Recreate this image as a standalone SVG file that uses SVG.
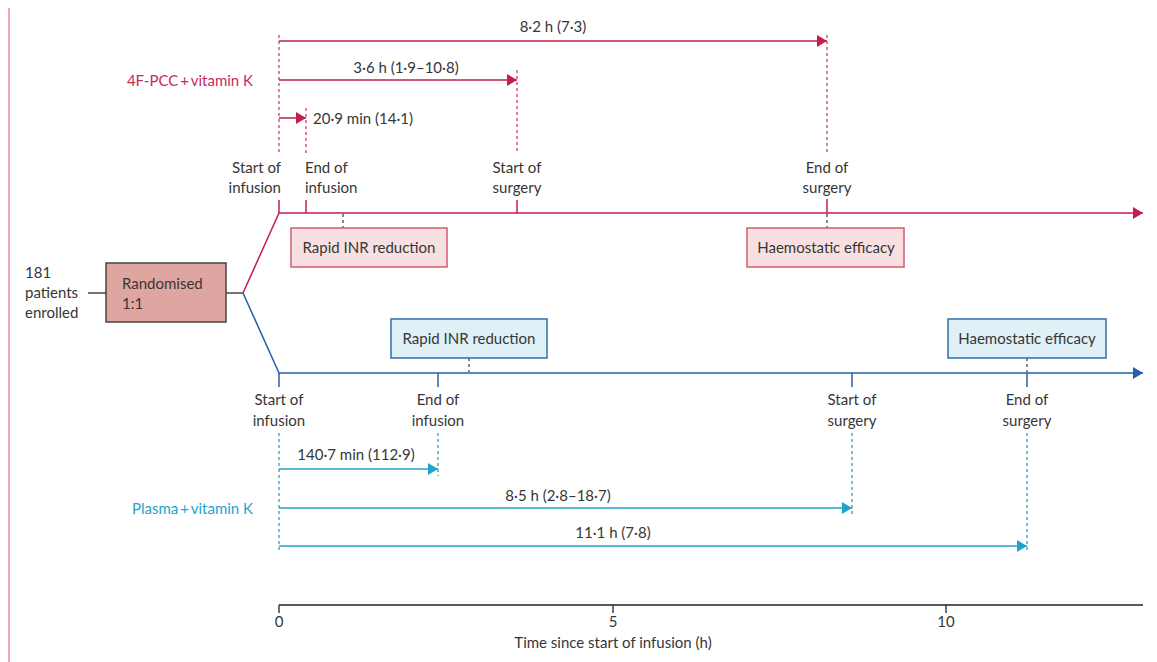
<svg xmlns="http://www.w3.org/2000/svg" width="1157" height="662" viewBox="0 0 1157 662">
<style>
text{font-family:Lato,"Open Sans","Liberation Sans",sans-serif;font-size:15px;fill:#363636}
.red{fill:#c8285a}
.lb{fill:#1fa3cc}
.m{text-anchor:middle}
.e{text-anchor:end}
.tr{stroke:#c41e4a;stroke-width:1.5;fill:none}
.tb{stroke:#2560a8;stroke-width:1.5;fill:none}
.dr{stroke:#d0406a;stroke-width:1.3;stroke-dasharray:3 3;fill:none}
.dl{stroke:#1fa3cc;stroke-width:1.3;stroke-dasharray:3 3;fill:none}
.dk{stroke:#444;stroke-width:1.3;stroke-dasharray:3 3;fill:none}
.ar{stroke:#c41e4a;stroke-width:1.5;fill:none}
.al{stroke:#1fa3cc;stroke-width:1.5;fill:none}
.bxr{fill:#f8e0e0;stroke:#d05c76;stroke-width:1.5}
.bxb{fill:#dff0f7;stroke:#2f6fae;stroke-width:1.5}
.ax{stroke:#222;stroke-width:1.3;fill:none}
</style>
<defs>
<marker id="mr" markerUnits="userSpaceOnUse" markerWidth="11" markerHeight="13" refX="10" refY="6" orient="auto"><path d="M0,0 L10,6 L0,12 z" fill="#c41e4a"/></marker>
<marker id="mb" markerUnits="userSpaceOnUse" markerWidth="11" markerHeight="13" refX="10" refY="6" orient="auto"><path d="M0,0 L10,6 L0,12 z" fill="#2560a8"/></marker>
<marker id="ml" markerUnits="userSpaceOnUse" markerWidth="11" markerHeight="13" refX="10" refY="6" orient="auto"><path d="M0,0 L10,6 L0,12 z" fill="#1fa3cc"/></marker>
</defs>
<line x1="9" y1="8" x2="9" y2="662" stroke="#e07a98" stroke-width="1.3"/>

<g id="enrolled">
<text x="25" y="278">181</text>
<text x="25" y="298">patients</text>
<text x="25" y="318">enrolled</text>
</g>
<g id="randomised">
<rect x="106" y="263" width="120" height="59" fill="#dfa5a0" stroke="#444" stroke-width="1.5"/>
<text x="122" y="289">Randomised</text>
<text x="122" y="309">1:1</text>
</g>

<g id="connectors">
<line x1="88" y1="293" x2="106" y2="293" stroke="#444" stroke-width="1.5"/>
<line x1="226" y1="293" x2="243" y2="293" stroke="#444" stroke-width="1.5"/>
<polyline class="tr" points="243,293 279,213 1143,213" marker-end="url(#mr)"/>
<polyline class="tb" points="243,293 279,373 1143,373" marker-end="url(#mb)"/>
<line class="tr" x1="279" y1="200" x2="279" y2="213"/>
<line class="tr" x1="306" y1="200" x2="306" y2="213"/>
<line class="tr" x1="517" y1="200" x2="517" y2="213"/>
<line class="tr" x1="827" y1="199" x2="827" y2="213"/>
<line class="dr" x1="279" y1="35" x2="279" y2="154"/>
<line class="dr" x1="827" y1="35" x2="827" y2="154"/>
<line class="dr" x1="517" y1="70" x2="517" y2="154"/>
<line class="dr" x1="306" y1="108" x2="306" y2="154"/>
<line class="ar" x1="279" y1="41" x2="827" y2="41" marker-end="url(#mr)"/>
<line class="ar" x1="279" y1="80" x2="517" y2="80" marker-end="url(#mr)"/>
<line class="ar" x1="279" y1="118" x2="306" y2="118" marker-end="url(#mr)"/>
<line class="dk" x1="343" y1="214" x2="343" y2="228"/>
<line class="dk" x1="827" y1="214" x2="827" y2="228"/>
<line class="dk" x1="469" y1="358" x2="469" y2="372"/>
<line class="dk" x1="1027" y1="358" x2="1027" y2="372"/>
<line class="tb" x1="279" y1="373" x2="279" y2="387"/>
<line class="tb" x1="438" y1="373" x2="438" y2="387"/>
<line class="tb" x1="852" y1="373" x2="852" y2="387"/>
<line class="tb" x1="1027" y1="373" x2="1027" y2="387"/>
<line class="dl" x1="279" y1="433" x2="279" y2="553"/>
<line class="dl" x1="438" y1="433" x2="438" y2="476"/>
<line class="dl" x1="852" y1="433" x2="852" y2="517"/>
<line class="dl" x1="1027" y1="433" x2="1027" y2="553"/>
<line class="al" x1="279" y1="469" x2="438" y2="469" marker-end="url(#ml)"/>
<line class="al" x1="279" y1="508" x2="852" y2="508" marker-end="url(#ml)"/>
<line class="al" x1="279" y1="546" x2="1027" y2="546" marker-end="url(#ml)"/>
</g>

<g id="red-labels">
<text class="m" x="553" y="32">8·2 h (7·3)</text>
<text class="m" x="406" y="73">3·6 h (1·9–10·8)</text>
<text x="313" y="124">20·9 min (14·1)</text>
<text class="red e" x="253" y="86">4F-PCC&#8201;+&#8201;vitamin K</text>
<text class="e" x="281" y="173">Start of</text>
<text class="e" x="281" y="193">infusion</text>
<text x="305" y="173">End of</text>
<text x="305" y="193">infusion</text>
<text class="m" x="517" y="173">Start of</text>
<text class="m" x="517" y="193">surgery</text>
<text class="m" x="827" y="173">End of</text>
<text class="m" x="827" y="193">surgery</text>
</g>
<g id="red-rapid">
<rect class="bxr" x="291" y="228" width="156" height="39"/>
<text class="m" x="369" y="253">Rapid INR reduction</text>
</g>
<g id="red-haemo">
<rect class="bxr" x="747" y="228" width="157" height="39"/>
<text class="m" x="826" y="253">Haemostatic efficacy</text>
</g>
<g id="blue-rapid">
<rect class="bxb" x="391" y="319" width="156" height="39"/>
<text class="m" x="469" y="344">Rapid INR reduction</text>
</g>
<g id="blue-haemo">
<rect class="bxb" x="948" y="319" width="158" height="39"/>
<text class="m" x="1027" y="344">Haemostatic efficacy</text>
</g>
<g id="blue-labels">
<text class="m" x="279" y="405">Start of</text>
<text class="m" x="279" y="426">infusion</text>
<text class="m" x="438" y="405">End of</text>
<text class="m" x="438" y="426">infusion</text>
<text class="m" x="852" y="405">Start of</text>
<text class="m" x="852" y="426">surgery</text>
<text class="m" x="1027" y="405">End of</text>
<text class="m" x="1027" y="426">surgery</text>
<text class="m" x="356" y="460">140·7 min (112·9)</text>
<text class="m" x="558" y="501">8·5 h (2·8–18·7)</text>
<text class="m" x="613" y="538">11·1 h (7·8)</text>
<text class="lb e" x="253" y="514">Plasma&#8201;+&#8201;vitamin K</text>
</g>

<g id="axis">
<line class="ax" x1="279" y1="605" x2="1143" y2="605"/>
<line class="ax" x1="279" y1="605" x2="279" y2="613"/>
<line class="ax" x1="613" y1="605" x2="613" y2="613"/>
<line class="ax" x1="946" y1="605" x2="946" y2="613"/>
<text class="m" x="279" y="627">0</text>
<text class="m" x="613" y="627">5</text>
<text class="m" x="946" y="627">10</text>
<text class="m" x="613" y="648">Time since start of infusion (h)</text>
</g>
</svg>
